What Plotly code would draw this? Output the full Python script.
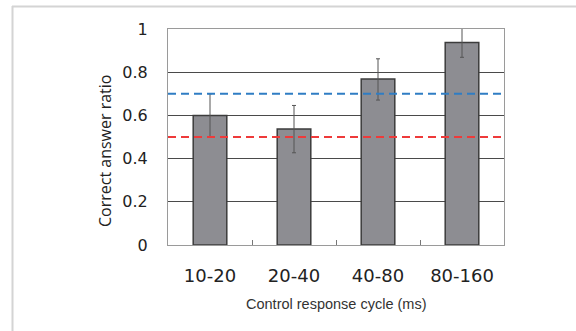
import plotly.graph_objects as go

categories = ["10-20", "20-40", "40-80", "80-160"]
ratio = [0.600, 0.537, 0.769, 0.937]
err_plus = [0.100, 0.109, 0.093, 0.068]
err_minus = [0.100, 0.110, 0.098, 0.068]
ref_blue = 0.7
ref_red = 0.5
y_ticks = [0, 0.2, 0.4, 0.6, 0.8, 1]
y_ticktext = ["0", "0.2", "0.4", "0.6", "0.8", "1"]
x_title = "Control response cycle (ms)"
y_title = "Correct answer ratio"

FONT = "Liberation Sans, Arial, sans-serif"
TICKFONT = "DejaVu Sans, Verdana, sans-serif"
YTITLEFONT = "Open Sans, Liberation Sans, sans-serif"

fig = go.Figure()
fig.add_trace(go.Bar(
    x=categories, y=ratio, width=0.4,
    marker=dict(color="#8d8d92", line=dict(color="#3c3c3c", width=1.5)),
    error_y=dict(type="data", symmetric=False, array=err_plus, arrayminus=err_minus,
                 color="#555555", thickness=1, width=2),
    showlegend=False,
))

# reference dashed lines
fig.add_shape(type="line", xref="paper", x0=0, x1=1, yref="y", y0=ref_blue, y1=ref_blue,
              line=dict(color="#2f7dc4", width=2, dash="8px,5px"), layer="above")
fig.add_shape(type="line", xref="paper", x0=0, x1=1, yref="y", y0=ref_red, y1=ref_red,
              line=dict(color="#ee3a3a", width=2, dash="8px,5px"), layer="above")

W, H = 576, 331
L, R, T, B = 168, 72, 29, 86
pw, ph = W - L - R, H - T - B
def px(x):
    return (x - L) / pw
def py(y):
    return 1 - (y - T) / ph

# outer frame (top and left)
fig.add_shape(type="line", xref="paper", yref="paper", x0=px(12), x1=px(600), y0=py(6.5), y1=py(6.5),
              line=dict(color="#d4d4d4", width=2))
fig.add_shape(type="line", xref="paper", yref="paper", x0=px(12.5), x1=px(12.5), y0=py(6), y1=py(340),
              line=dict(color="#d4d4d4", width=2))

# axis titles
fig.add_annotation(text=y_title, xref="paper", yref="paper", x=px(105), y=py(151),
                   textangle=-90, showarrow=False, xanchor="center", yanchor="middle",
                   font=dict(family=YTITLEFONT, size=16, color="#222222"))
fig.add_annotation(text=x_title, xref="paper", yref="paper", x=px(336), y=py(304),
                   showarrow=False, xanchor="center", yanchor="middle",
                   font=dict(family=FONT, size=14.5, color="#333333"))

fig.update_layout(
    width=W, height=H,
    margin=dict(l=L, r=R, t=T, b=B),
    paper_bgcolor="white", plot_bgcolor="white",
    font=dict(family=FONT, color="#222222"),
    xaxis=dict(
        range=[-0.5, 3.5], tickson="boundaries", ticks="inside", ticklen=5,
        tickcolor="#777777", tickwidth=1,
        showline=True, mirror=True, linecolor="#9a9a9a", linewidth=1,
        showgrid=False, ticklabelstandoff=14,
        tickfont=dict(family=TICKFONT, size=18, color="#222222"),
    ),
    yaxis=dict(
        range=[0, 1], tickvals=y_ticks, ticktext=y_ticktext,
        showline=True, mirror=True, linecolor="#9a9a9a", linewidth=1,
        showgrid=True, gridcolor="#4a4a4a", gridwidth=1, zeroline=False,
        ticks="", ticklabelstandoff=16,
        tickfont=dict(family=TICKFONT, size=16, color="#222222"),
    ),
)

fig.write_html("out.html")
